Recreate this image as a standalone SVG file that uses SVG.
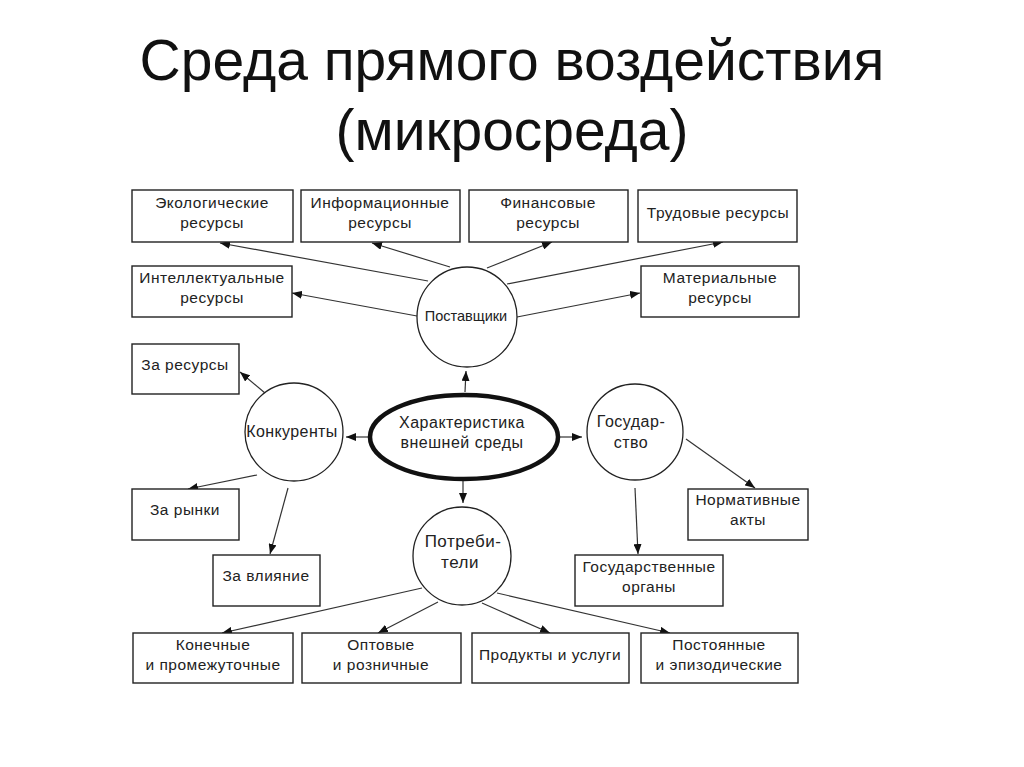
<svg xmlns="http://www.w3.org/2000/svg" width="1024" height="767" viewBox="0 0 1024 767">
<style>
.title{font-family:"Liberation Sans","Open Sans",sans-serif;font-size:57px;fill:#111;text-anchor:middle}
.box{fill:#fff;stroke:#222;stroke-width:1.4}
.circ{fill:#fff;stroke:#222;stroke-width:1.3}
.t{font-family:"Liberation Sans","Noto Sans",sans-serif;font-size:15.5px;letter-spacing:0.5px;fill:#222;text-anchor:middle}
.c{stroke:#333;stroke-width:1.2;fill:none;marker-end:url(#ah)}
</style>
<defs>
<marker id="ah" viewBox="0 0 10 8" refX="10" refY="4" markerWidth="10" markerHeight="8" markerUnits="userSpaceOnUse" orient="auto">
<path d="M0,0 L10,4 L0,8 Z" fill="#111"/>
</marker>
</defs>
<rect width="1024" height="767" fill="#fff"/>
<text class="title" x="512" y="80">Среда прямого воздействия</text>
<text class="title" x="512" y="150">(микросреда)</text>

<g id="connectors">
<line class="c" x1="428" y1="281" x2="220" y2="243"/>
<line class="c" x1="450" y1="267" x2="372" y2="243"/>
<line class="c" x1="417" y1="316" x2="292" y2="293"/>
<line class="c" x1="487" y1="268" x2="552" y2="242"/>
<line class="c" x1="507" y1="284" x2="723" y2="242"/>
<line class="c" x1="517" y1="317" x2="640" y2="293"/>
<line class="c" x1="465" y1="392" x2="466" y2="371"/>
<line class="c" x1="560" y1="437" x2="582" y2="437"/>
<line class="c" x1="368" y1="437" x2="346" y2="437"/>
<line class="c" x1="463" y1="481" x2="463" y2="503"/>
<line class="c" x1="265" y1="393" x2="240" y2="372"/>
<line class="c" x1="257" y1="475" x2="188" y2="489"/>
<line class="c" x1="288" y1="488" x2="270" y2="554"/>
<line class="c" x1="686" y1="439" x2="755" y2="488"/>
<line class="c" x1="635" y1="488" x2="638" y2="554"/>
<line class="c" x1="422" y1="588" x2="222" y2="633"/>
<line class="c" x1="438" y1="602" x2="378" y2="633"/>
<line class="c" x1="482" y1="603" x2="550" y2="633"/>
<line class="c" x1="497" y1="593" x2="670" y2="633"/>
</g>

<g id="center">
<ellipse cx="464" cy="437" rx="94" ry="42" fill="#fff" stroke="#111" stroke-width="4.5"/>
<text class="t" x="462" y="428" style="font-size:16px">Характеристика</text>
<text class="t" x="462" y="448" style="font-size:16px">внешней среды</text>
</g>
<g id="suppliers">
<circle class="circ" cx="467" cy="317" r="50"/>
<text class="t" x="466" y="321" style="font-size:14.5px;letter-spacing:0">Поставщики</text>
</g>
<g id="competitors">
<circle class="circ" cx="294" cy="432" r="49"/>
<text class="t" x="292" y="437" style="font-size:16px;letter-spacing:0.4px">Конкуренты</text>
</g>
<g id="state">
<circle class="circ" cx="635" cy="432" r="48"/>
<text class="t" x="631" y="427" style="font-size:16px">Государ-</text>
<text class="t" x="631" y="448" style="font-size:16px">ство</text>
</g>
<g id="consumers">
<circle class="circ" cx="462" cy="556" r="49"/>
<text class="t" x="463" y="547" style="font-size:17px">Потреби-</text>
<text class="t" x="460" y="568" style="font-size:17px">тели</text>
</g>

<g id="eco"><rect class="box" x="132" y="190" width="161" height="52"/><text class="t" x="212" y="208">Экологические</text><text class="t" x="212" y="228">ресурсы</text></g>
<g id="info"><rect class="box" x="301" y="190" width="159" height="52"/><text class="t" x="380" y="208">Информационные</text><text class="t" x="380" y="228">ресурсы</text></g>
<g id="fin"><rect class="box" x="469" y="190" width="159" height="52"/><text class="t" x="548" y="208">Финансовые</text><text class="t" x="548" y="228">ресурсы</text></g>
<g id="labor"><rect class="box" x="638" y="190" width="159" height="52"/><text class="t" x="718" y="218">Трудовые ресурсы</text></g>
<g id="intel"><rect class="box" x="132" y="266" width="160" height="51"/><text class="t" x="212" y="283">Интеллектуальные</text><text class="t" x="212" y="303">ресурсы</text></g>
<g id="mat"><rect class="box" x="641" y="266" width="158" height="51"/><text class="t" x="720" y="283">Материальные</text><text class="t" x="720" y="303">ресурсы</text></g>
<g id="res"><rect class="box" x="132" y="344" width="107" height="50"/><text class="t" x="185" y="370">За ресурсы</text></g>
<g id="markets"><rect class="box" x="132" y="489" width="107" height="51"/><text class="t" x="185" y="515">За рынки</text></g>
<g id="influence"><rect class="box" x="213" y="555" width="107" height="51"/><text class="t" x="266" y="581">За влияние</text></g>
<g id="norm"><rect class="box" x="688" y="489" width="120" height="51"/><text class="t" x="748" y="505">Нормативные</text><text class="t" x="748" y="525">акты</text></g>
<g id="gov"><rect class="box" x="575" y="555" width="148" height="51"/><text class="t" x="649" y="572">Государственные</text><text class="t" x="649" y="592">органы</text></g>
<g id="final"><rect class="box" x="133" y="633" width="160" height="50"/><text class="t" x="213" y="650">Конечные</text><text class="t" x="213" y="670">и промежуточные</text></g>
<g id="whole"><rect class="box" x="302" y="633" width="159" height="50"/><text class="t" x="381" y="650">Оптовые</text><text class="t" x="381" y="670">и розничные</text></g>
<g id="prod"><rect class="box" x="472" y="633" width="157" height="50"/><text class="t" x="550" y="660">Продукты и услуги</text></g>
<g id="perm"><rect class="box" x="641" y="633" width="157" height="50"/><text class="t" x="719" y="650">Постоянные</text><text class="t" x="719" y="670">и эпизодические</text></g>
</svg>
